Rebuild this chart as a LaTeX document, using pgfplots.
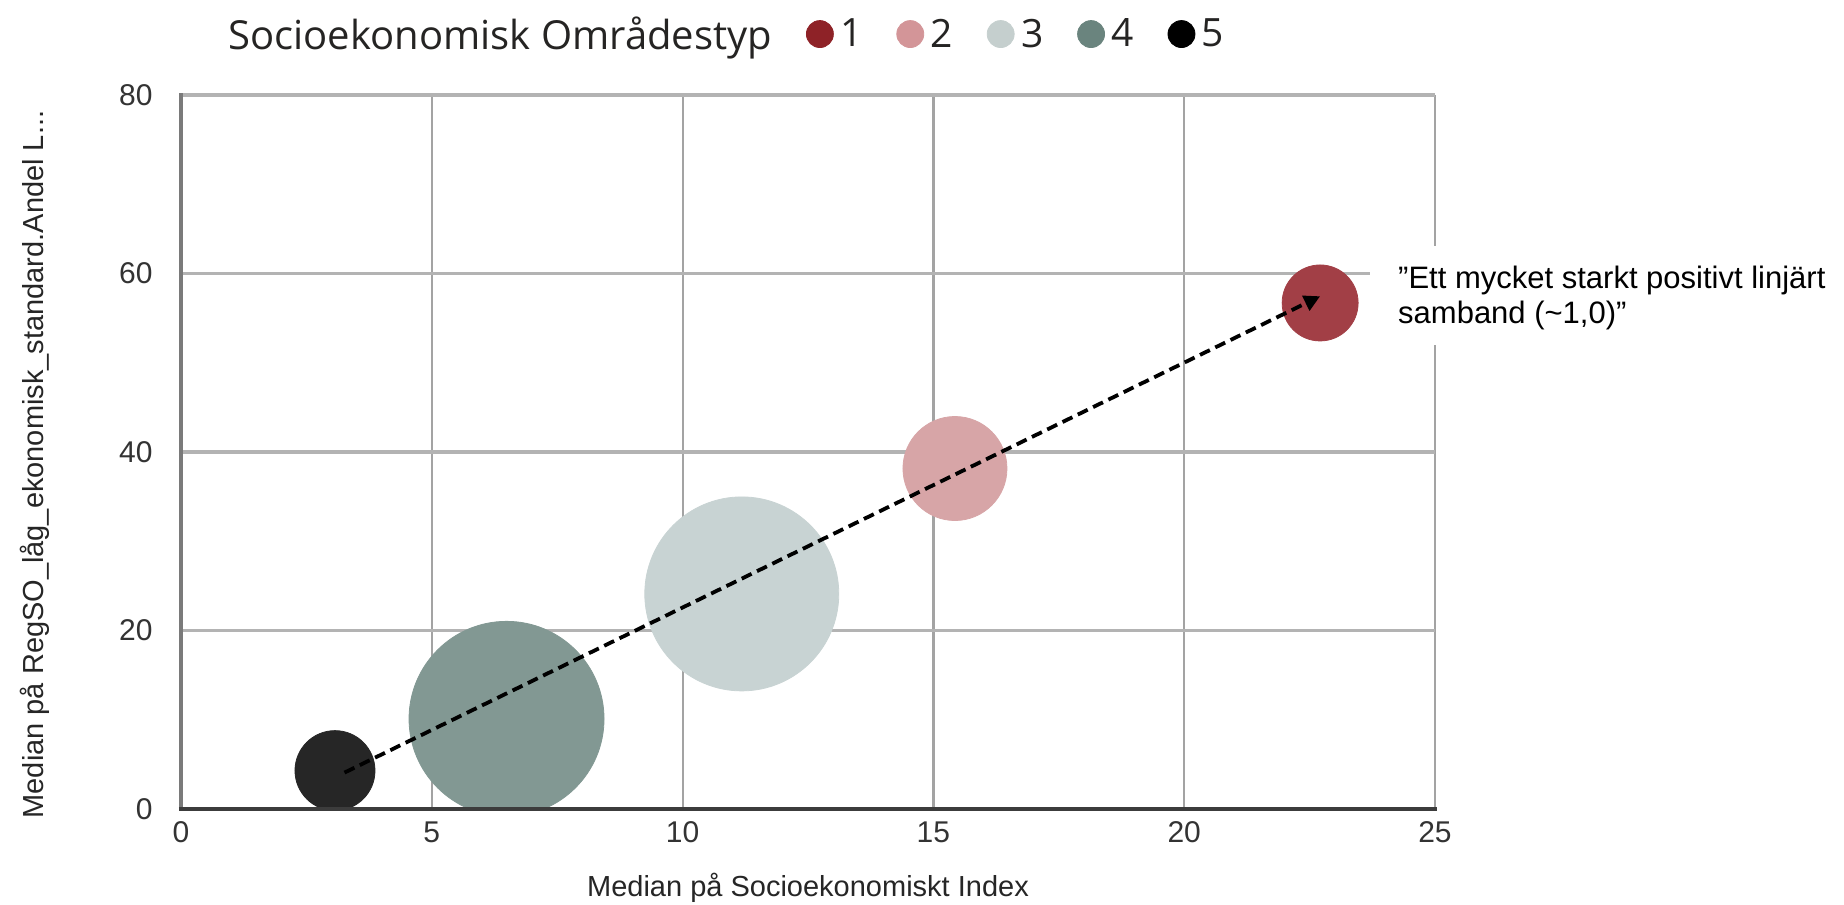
\documentclass[border=0pt]{standalone}
\usepackage{fontspec}
\setmainfont{Liberation Sans}
\newfontfamily\legfont{Open Sans}
\usepackage{pgfplots}
\pgfplotsset{compat=1.18}
\usetikzlibrary{arrows.meta}
\definecolor{cA}{HTML}{A23F46}
\definecolor{cB}{HTML}{D7A5A7}
\definecolor{cC}{HTML}{C8D3D3}
\definecolor{cD}{HTML}{829893}
\definecolor{cE}{HTML}{262626}
\definecolor{cAl}{HTML}{8E2227}
\definecolor{cBl}{HTML}{D39598}
\definecolor{cCl}{HTML}{C5CFCE}
\definecolor{cDl}{HTML}{6A847E}
\definecolor{cEl}{HTML}{000000}
\definecolor{gridv}{HTML}{A3A3A3}
\definecolor{gridh}{HTML}{B3B3B3}
\definecolor{axl}{HTML}{7A7A7A}
\definecolor{axb}{HTML}{3C3C3C}
\definecolor{tickc}{HTML}{333333}
\definecolor{labc}{HTML}{262626}
\definecolor{legc}{HTML}{252423}
\begin{document}
\begin{tikzpicture}
\begin{axis}[
  at={(0pt,0pt)}, anchor=south west,
  scale only axis, width=627pt, height=357pt,
  xmin=0, xmax=25, ymin=0, ymax=80,
  xtick={0,5,10,15,20,25}, ytick={0,20,40,60,80},
  grid=major,
  x grid style={color=gridv, line width=1.1pt},
  y grid style={color=gridh, line width=1.8pt},
  axis line style={draw=none},
  major tick length=0pt,
  tick label style={font=\fontsize{15}{18}\selectfont, text=tickc},
  /pgf/number format/assume math mode=true,
  yticklabel style={anchor=east, inner sep=0pt, xshift=-14pt},
  xticklabel style={anchor=north, inner sep=0pt, yshift=-6.3pt},
  xlabel={Median på Socioekonomiskt Index},
  ylabel={Median på RegSO\_låg\_ekonomisk\_standard.Andel L...},
  xlabel style={at={(axis description cs:0.5,-0.1232)}, anchor=base, font=\fontsize{14.5}{17}\selectfont, text=labc},
  ylabel style={at={(axis description cs:-0.110,0.4825)}, anchor=base, font=\fontsize{14.5}{17}\selectfont, text=labc},
  clip marker paths=true,
  legend columns=-1,
  legend style={at={(0.0327,1.0848)}, anchor=west, draw=none, fill=none,
    inner sep=0pt, outer sep=0pt,
    font=\legfont\fontsize{19.5}{22}\selectfont, text=legc,
    nodes={inner sep=0pt},
    /tikz/every odd column/.append style={column sep=3.25pt},
    /tikz/every even column/.append style={column sep=16.9pt}},
]
\addlegendimage{empty legend}
\addlegendentry{\fontsize{20}{22}\selectfont Socioekonomisk Områdestyp\hspace{12.5pt}}
\addplot[only marks, mark=*, mark size=19pt, color=cA, mark options={draw=cA, fill=cA},
  legend image code/.code={\fill[cAl] (6.75pt,0.2pt) circle (6.75pt);}]
  coordinates {(22.71,56.7)};
\addlegendentry{1}
\addplot[only marks, mark=*, mark size=26pt, color=cB, mark options={draw=cB, fill=cB},
  legend image code/.code={\fill[cBl] (6.75pt,0.2pt) circle (6.75pt);}]
  coordinates {(15.43,38.15)};
\addlegendentry{2}
\addplot[only marks, mark=*, mark size=48.5pt, color=cC, mark options={draw=cC, fill=cC},
  legend image code/.code={\fill[cCl] (6.75pt,0.2pt) circle (6.75pt);}]
  coordinates {(11.18,24.1)};
\addlegendentry{3}
\addplot[only marks, mark=*, mark size=48.75pt, color=cD, mark options={draw=cD, fill=cD},
  legend image code/.code={\fill[cDl] (6.75pt,0.2pt) circle (6.75pt);}]
  coordinates {(6.49,10.1)};
\addlegendentry{4}
\addplot[only marks, mark=*, mark size=20pt, color=cE, mark options={draw=cE, fill=cE},
  legend image code/.code={\fill[cEl] (6.75pt,0.2pt) circle (6.75pt);}]
  coordinates {(3.07,4.3)};
\addlegendentry{5}
\addplot[forget plot, black, line width=1.9pt, dash pattern=on 5.5pt off 3pt,
  -{Triangle[length=8pt, width=8pt]}]
  coordinates {(3.26,4.08) (22.71,57.45)};
\end{axis}
\draw[line width=2.2pt, color=axl] (0pt,0pt) -- (0pt,357.9pt);
\draw[line width=2.4pt, color=axb] (-1.1pt,0pt) -- (628pt,0pt);
\fill[white] (594.5pt,232pt) rectangle (840pt,281.5pt);
\node[anchor=base west, inner sep=0pt, font=\fontsize{15.5}{18}\selectfont] at (608.4pt,260.35pt) {”Ett mycket starkt positivt linjärt};
\node[anchor=base west, inner sep=0pt, font=\fontsize{15.5}{18}\selectfont] at (608.4pt,242.5pt) {samband (\textasciitilde1,0)”};
\pgfresetboundingbox
\useasboundingbox (-90.5pt,-48pt) rectangle (831.5pt,404.5pt);
\end{tikzpicture}
\end{document}
